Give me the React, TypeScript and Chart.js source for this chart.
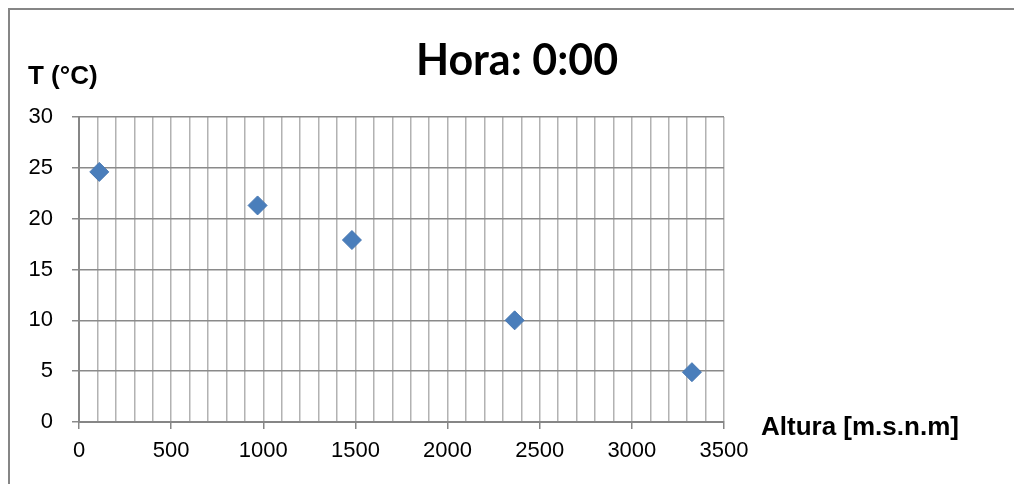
import React, { useEffect, useRef } from "react";
import { Chart, registerables } from "chart.js";

Chart.register(...registerables);

const chartTitle = "Hora: 0:00";
const yAxisTitle = "T (°C)";
const xAxisTitle = "Altura [m.s.n.m]";
const altitudes = [110, 969, 1481, 2364, 3326];
const temperatures = [24.6, 21.3, 17.9, 10.0, 4.9];
const xMin = 0;
const xMax = 3500;
const xMinorStep = 100;
const xLabelStep = 500;
const yMin = 0;
const yMax = 30;
const yStep = 5;

const W = 1014;
const H = 484;

const decorPlugin = {
  id: "decor",
  afterDraw(chart: any) {
    const ctx = chart.ctx;
    ctx.save();
    ctx.strokeStyle = "#868686";
    ctx.lineWidth = 2;
    ctx.strokeRect(9, 9, W + 100, H + 100);
    ctx.fillStyle = "#000";
    ctx.textBaseline = "alphabetic";
    ctx.textAlign = "center";
    ctx.font = "bold 43px Lato";
    ctx.fillText(chartTitle, 517, 75);
    ctx.textAlign = "left";
    ctx.font = "bold 26px 'Liberation Sans'";
    ctx.fillText(yAxisTitle, 28, 84);
    ctx.fillText(xAxisTitle, 761, 435);
    ctx.restore();
  },
};

export default function App() {
  const ref = useRef<HTMLCanvasElement>(null);
  useEffect(() => {
    if (!ref.current) return;
    const chart = new Chart(ref.current, {
      type: "scatter",
      data: {
        datasets: [
          {
            data: altitudes.map((x, i) => ({ x, y: temperatures[i] })),
            pointStyle: "rectRot",
            pointRadius: 9.5,
            pointHoverRadius: 9.5,
            backgroundColor: "#4a7ebb",
            borderColor: "#4677b2",
            borderWidth: 1,
          },
        ],
      },
      options: {
        responsive: false,
        animation: false,
        events: [],
        layout: { padding: { left: 0, top: 117, right: 290, bottom: 0 } },
        plugins: {
          legend: { display: false },
          title: { display: false },
          tooltip: { enabled: false },
        },
        scales: {
          x: {
            type: "linear",
            min: xMin,
            max: xMax,
            afterFit: (s: any) => {
              s.height = 62;
            },
            border: { color: "#868686", width: 2 },
            grid: {
              color: "#b2b2b2",
              lineWidth: 1.5,
              tickLength: 7,
              tickColor: (c: any) =>
                c.tick && c.tick.value % xLabelStep === 0 ? "#868686" : "rgba(0,0,0,0)",
            },
            ticks: {
              stepSize: xMinorStep,
              autoSkip: false,
              maxRotation: 0,
              padding: 9,
              color: "#000",
              font: { family: "'Liberation Sans'", size: 22 },
              callback: (v: any) => (Number(v) % xLabelStep === 0 ? String(v) : ""),
            },
          },
          y: {
            type: "linear",
            min: yMin,
            max: yMax,
            afterFit: (s: any) => {
              s.width = 79;
            },
            border: { color: "#868686", width: 2 },
            grid: {
              color: "#8a8a8a",
              lineWidth: 1.5,
              tickLength: 7,
            },
            ticks: {
              stepSize: yStep,
              padding: 19,
              color: "#000",
              font: { family: "'Liberation Sans'", size: 22 },
            },
          },
        },
      },
      plugins: [decorPlugin],
    });
    return () => chart.destroy();
  }, []);
  return (
    <div style={{ position: "fixed", left: 0, top: 0, width: W, height: H, overflow: "hidden", background: "#fff" }}>
      <canvas ref={ref} width={W} height={H} style={{ display: "block" }} />
    </div>
  );
}
